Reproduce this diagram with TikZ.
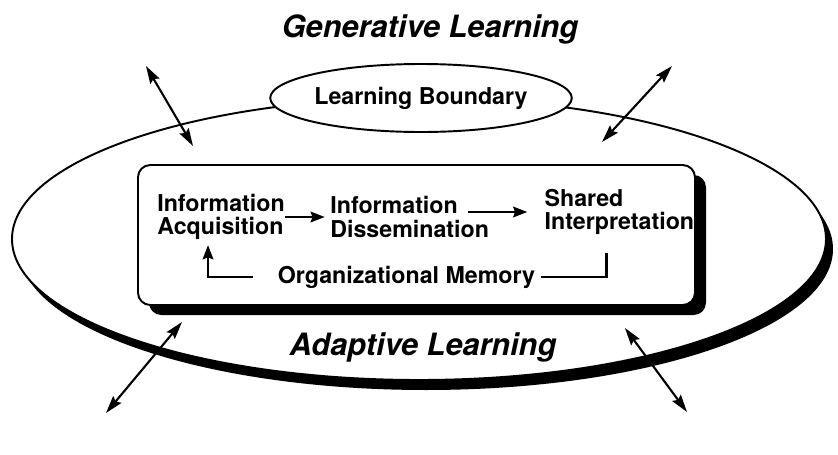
\documentclass[tikz,border=0pt]{standalone}
\usepackage{fontspec}
\setmainfont{TeX Gyre Heros}
\usetikzlibrary{shapes.geometric, arrows.meta, positioning, shadows}
\tikzset{
  % Text styles
  titletext/.style={font=\fontsize{17.5}{20}\selectfont\bfseries\itshape, inner sep=0pt},
  labeltext/.style={font=\fontsize{13.2}{13.2}\selectfont\bfseries, align=left, inner sep=0pt},
  % Shape styles
  outerellipse/.style={ellipse, draw, line width=1.1pt, fill=white, minimum width=16.28cm, minimum height=5.64cm, inner sep=0pt, drop shadow={shadow xshift=0.14cm, shadow yshift=-0.2cm, fill=black, opacity=1}},
  boundaryellipse/.style={ellipse, draw, line width=1.1pt, fill=white, minimum width=5.16cm, minimum height=1.36cm, inner sep=0pt, font=\fontsize{13.2}{13.2}\selectfont\bfseries},
  processbox/.style={rectangle, rounded corners=7pt, draw, line width=1.1pt, fill=white, minimum width=11.14cm, minimum height=2.8cm, drop shadow={shadow xshift=0.22cm, shadow yshift=-0.2cm, fill=black, opacity=1}},
  % Arrow styles
  arrow/.style={-{Stealth[length=8pt, width=6pt, inset=1pt]}, line width=1.4pt},
  dblarrow/.style={{Stealth[length=10pt, width=6pt, inset=1.5pt]}-{Stealth[length=10pt, width=6pt, inset=1.5pt]}, line width=1.2pt},
  plainline/.style={line width=1.4pt}
}

\begin{document}
\begin{tikzpicture}
  \useasboundingbox (0,0) rectangle (16.76,9.08);

  % Outer boundary
  \node[outerellipse] (outer) at (8.38,4.30) {};
  \node[boundaryellipse] (boundary) at (8.42,7.12) {Learning Boundary};

  % Titles
  \node[titletext, anchor=base] (generative) at (8.6,8.34) {Generative Learning};
  \node[titletext, anchor=base] (adaptive) at (8.46,1.98) {Adaptive Learning};

  % Inner process
  \node[processbox] (process) at (8.33,4.38) {};
  \node[labeltext, anchor=west] (acquisition) at (3.14,4.74) {Information\\Acquisition};
  \node[labeltext, right=0.9cm of acquisition] (dissemination) {Information\\Dissemination};
  \node[labeltext, right=1.1cm of dissemination, yshift=0.1cm] (interpretation) {Shared\\Interpretation};
  \node[labeltext] (memory) at (8.13,3.54) {Organizational Memory};

  % Crossing points
  \coordinate (tlout) at (2.92,7.76);
  \coordinate (tlin) at (3.86,6.16);
  \coordinate (trout) at (13.44,7.76);
  \coordinate (trin) at (12.04,6.24);
  \coordinate (blin) at (3.64,2.64);
  \coordinate (blout) at (2.12,0.82);
  \coordinate (brin) at (12.5,2.52);
  \coordinate (brout) at (13.74,0.84);

  % Arrows
  \draw[arrow, shorten >=3pt] (acquisition.east) -- (dissemination.west);
  \draw[arrow] ([xshift=-0.42cm]dissemination.east |- interpretation.west) -- ([xshift=-0.34cm]interpretation.west);
  \draw[plainline] ([xshift=0.12cm]memory.east) -| ([shift={(-0.26,-0.36)}]interpretation.south);
  \draw[arrow] ([xshift=-0.5cm]memory.west) -| ([shift={(-0.26,-0.1)}]acquisition.south);
  \draw[dblarrow] (tlout) -- (tlin);
  \draw[dblarrow] (trout) -- (trin);
  \draw[dblarrow] (blin) -- (blout);
  \draw[dblarrow] (brin) -- (brout);
\end{tikzpicture}
\end{document}
